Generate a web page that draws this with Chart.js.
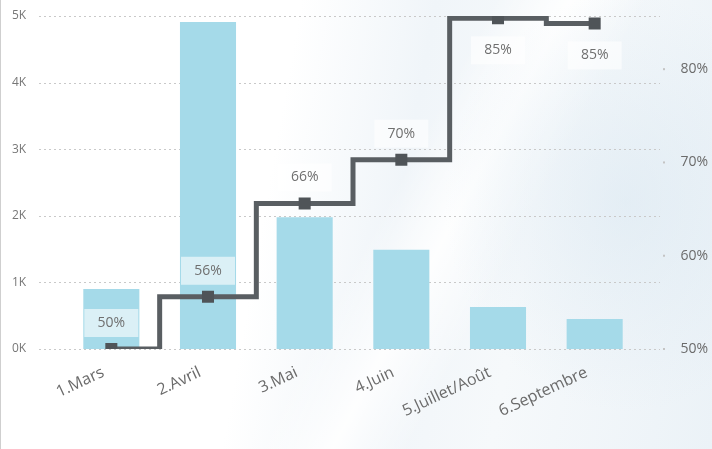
<!DOCTYPE html>
<html>
<head>
<meta charset="utf-8">
<script src="https://cdn.jsdelivr.net/npm/chart.js@4"></script>
<style>
  body { margin:0; }
  #wrap {
    width:712px; height:449px; position:relative; box-sizing:border-box;
    border-left:1px solid #cfcfcf;
    background:
      radial-gradient(ellipse 260px 300px at 88% 45%, rgba(214,229,240,0.5), rgba(255,255,255,0) 70%),
      linear-gradient(118deg, rgba(255,255,255,0) 52%, rgba(255,255,255,0.9) 60%, rgba(255,255,255,0) 68%),
      linear-gradient(100deg, #ffffff 38%, #f0f5f9 55%, #f6f9fb 72%, #ebf2f7 100%);
  }
</style>
</head>
<body>
<div id="wrap"><canvas id="chart"></canvas></div>
<script>
// categories + series
const months = ['1.Mars', '2.Avril', '3.Mai', '4.Juin', '5.Juillet/Août', '6.Septembre'];
const volumes = [900, 4910, 1980, 1490, 630, 450];
const rates = [50.0, 55.6, 65.6, 70.3, 85.45, 84.9];
const leftTicks = [0, 1000, 2000, 3000, 4000, 5000];
const rightTicks = [50, 60, 70, 80];

const FONT = '"Open Sans", "DejaVu Sans", sans-serif';

// dotted gridlines that run a bit past the plot area, like the original
const dottedGrid = {
  id: 'dottedGrid',
  beforeDatasetsDraw(chart) {
    const ctx = chart.ctx, a = chart.chartArea;
    const y = chart.scales.y, y1 = chart.scales.y1;
    ctx.save();
    ctx.strokeStyle = '#c9c9c9';
    ctx.lineWidth = 1;
    ctx.setLineDash([2, 3]);
    leftTicks.forEach(v => {
      const py = Math.round(y.getPixelForValue(v)) + 0.5;
      ctx.beginPath(); ctx.moveTo(a.left - 24, py); ctx.lineTo(a.right + 17, py); ctx.stroke();
    });
    ctx.setLineDash([]);
    ctx.fillStyle = '#c4c4c4';
    rightTicks.forEach(v => {
      const py = y1.getPixelForValue(v);
      ctx.fillRect(a.right + 20, py - 1, 2, 2);
    });
    ctx.restore();
  }
};

// % labels with a pale box, above the point unless there is no room
const valueLabels = {
  id: 'valueLabels',
  afterDatasetsDraw(chart) {
    const ctx = chart.ctx, meta = chart.getDatasetMeta(1);
    ctx.save();
    ctx.font = '14px ' + FONT;
    ctx.textAlign = 'center';
    ctx.textBaseline = 'middle';
    meta.data.forEach((pt, i) => {
      const above = pt.y - 45 > chart.chartArea.top;
      const cy = above ? pt.y - 26 : pt.y + 32;
      ctx.fillStyle = 'rgba(255,255,255,0.6)';
      ctx.fillRect(pt.x - 27, cy - 14, 54, 28);
      ctx.fillStyle = '#6f6f6f';
      ctx.fillText(Math.round(rates[i]) + '%', pt.x, cy);
    });
    ctx.restore();
  }
};

new Chart(document.getElementById('chart'), {
  data: {
    labels: months,
    datasets: [
      { type:'bar', data:volumes, yAxisID:'y', backgroundColor:'#a5dae9',
        barPercentage:0.58, categoryPercentage:1, order:2 },
      { type:'line', data:rates, yAxisID:'y1', stepped:'middle',
        borderColor:'#595e62', borderWidth:5, pointStyle:'rect', pointRadius:8.5,
        pointBackgroundColor:'#4f5458', pointBorderWidth:0, order:1 }
    ]
  },
  options: {
    responsive:true, maintainAspectRatio:false, animation:false,
    layout:{ autoPadding:false, padding:{ top:16, left:11, right:4, bottom:0 } },
    plugins:{ legend:{display:false}, tooltip:{enabled:false} },
    scales:{
      x:{
        grid:{display:false}, border:{display:false},
        afterFit: s => { s.height = 100; },
        ticks:{ maxRotation:25, minRotation:25, padding:6, labelOffset:-8, color:'#6b6b6b', font:{family:FONT, size:16} }
      },
      y:{
        position:'left', min:0, max:5000,
        grid:{display:false, drawTicks:false}, border:{display:false},
        afterFit: s => { s.width = 51; },
        afterBuildTicks: s => { s.ticks = leftTicks.map(v => ({value:v})); },
        ticks:{ padding:0, crossAlign:'far', color:'#777', font:{family:FONT, size:12}, callback: v => (v/1000) + 'K' }
      },
      y1:{
        position:'right', min:50, max:85.7,
        grid:{display:false, drawTicks:false}, border:{display:false},
        afterFit: s => { s.width = 65; },
        afterBuildTicks: s => { s.ticks = rightTicks.map(v => ({value:v})); },
        ticks:{ padding:0, crossAlign:'far', color:'#6b6b6b', font:{family:FONT, size:14}, callback: v => v + '%' }
      }
    }
  },
  plugins:[dottedGrid, valueLabels]
});
</script>
</body>
</html>
